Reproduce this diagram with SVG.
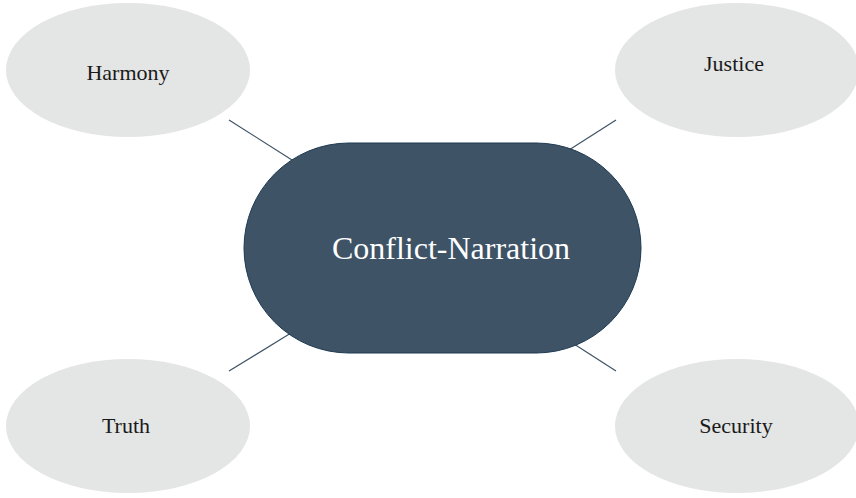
<svg xmlns="http://www.w3.org/2000/svg" width="856" height="498" viewBox="0 0 856 498">
  <style>
    .leaf { fill: #e4e5e5; }
    .leaf-label { font-family: "Liberation Serif", "DejaVu Serif", serif; font-size: 22px; fill: #1a1a1a; text-anchor: middle; }
    .hub { fill: #3e5366; stroke: #1e3a52; stroke-width: 1; }
    .hub-label { font-family: "Liberation Serif", "DejaVu Serif", serif; font-size: 32px; fill: #ffffff; text-anchor: middle; }
    .link { stroke: #3e5366; stroke-width: 1.2; fill: none; }
  </style>
  <rect width="856" height="498" fill="#ffffff"/>

  <g id="connectors">
    <line class="link" x1="229" y1="120" x2="292" y2="160"/>
    <line class="link" x1="616" y1="120" x2="569" y2="150"/>
    <line class="link" x1="229" y1="371" x2="291" y2="333"/>
    <line class="link" x1="616" y1="371" x2="574" y2="344"/>
  </g>

  <g id="hub">
    <rect class="hub" x="244" y="143" width="397" height="210" rx="105" ry="105"/>
    <text class="hub-label" x="451" y="259">Conflict-Narration</text>
  </g>

  <g id="harmony">
    <ellipse class="leaf" cx="128" cy="70" rx="122" ry="67"/>
    <text class="leaf-label" x="128" y="80">Harmony</text>
  </g>

  <g id="justice">
    <ellipse class="leaf" cx="737" cy="70" rx="122" ry="67"/>
    <text class="leaf-label" x="734" y="71">Justice</text>
  </g>

  <g id="truth">
    <ellipse class="leaf" cx="128" cy="426" rx="122" ry="67"/>
    <text class="leaf-label" x="126" y="433">Truth</text>
  </g>

  <g id="security">
    <ellipse class="leaf" cx="737" cy="426" rx="122" ry="67"/>
    <text class="leaf-label" x="736" y="433">Security</text>
  </g>
</svg>
